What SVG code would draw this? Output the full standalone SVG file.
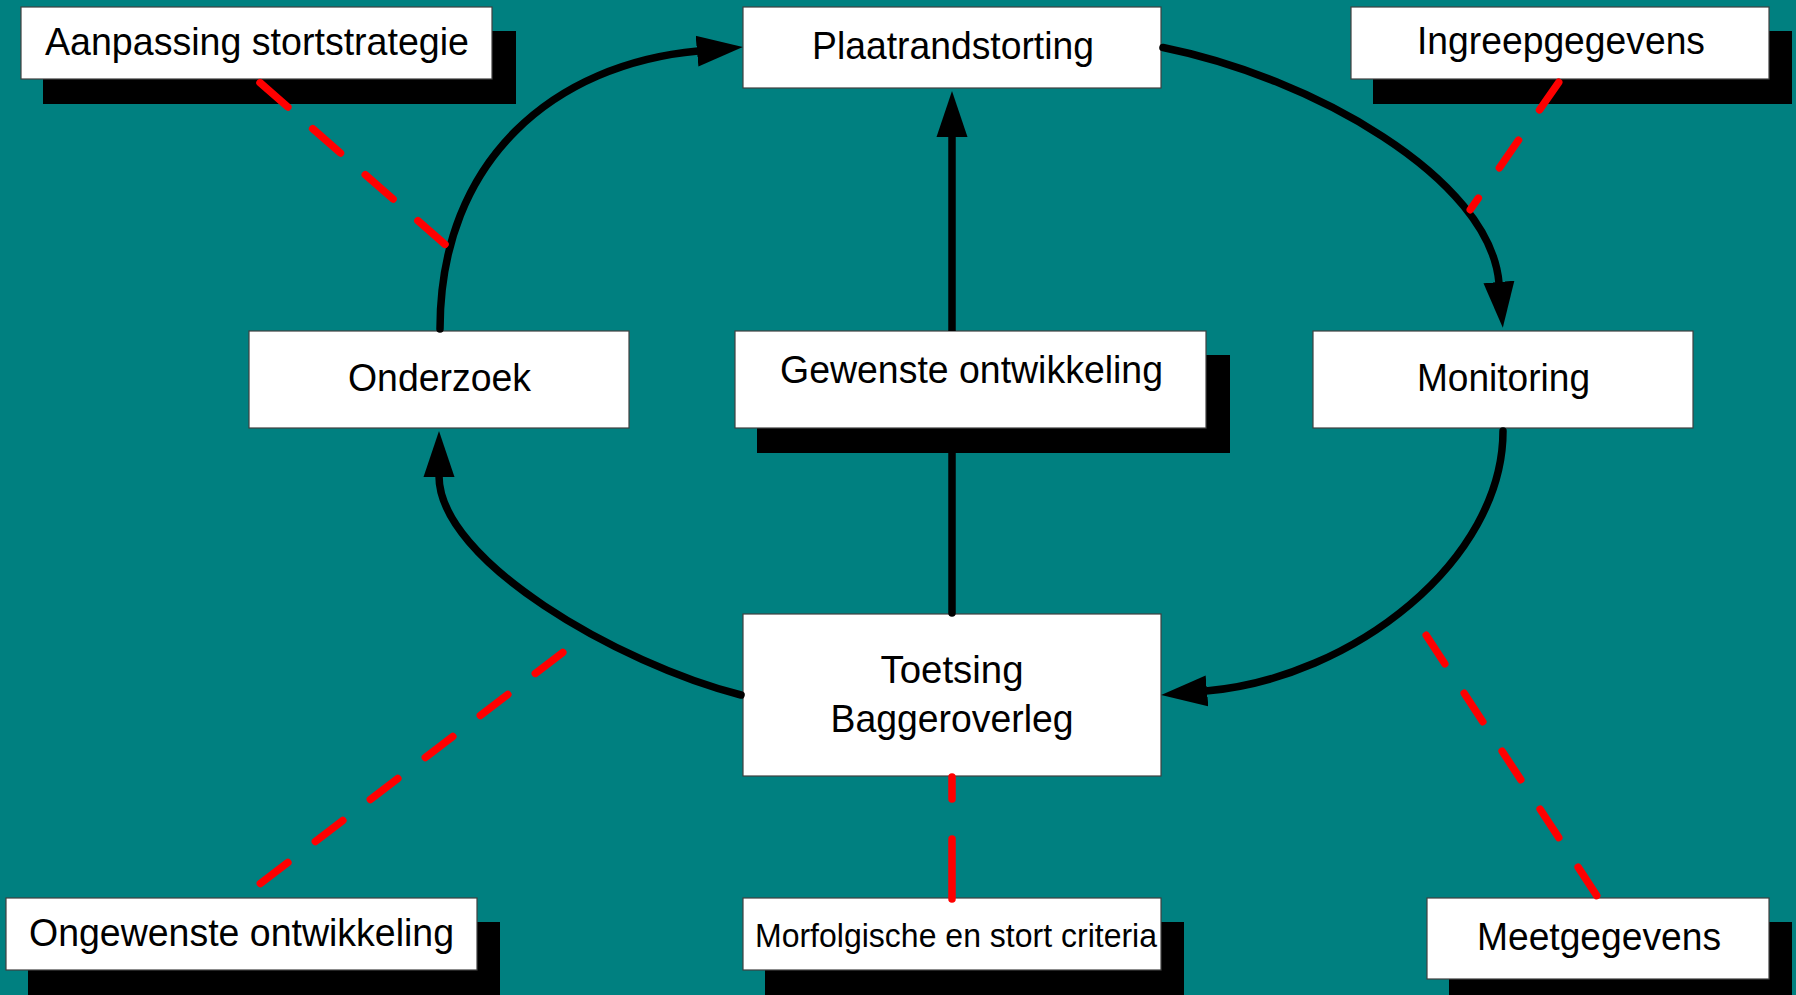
<svg xmlns="http://www.w3.org/2000/svg" width="1796" height="995" viewBox="0 0 1796 995">
<defs>
<style>
.box{fill:#ffffff;stroke:#404040;stroke-width:1.2}
.shadow{fill:#000000}
.lbl{font-family:"Liberation Sans",Arial,sans-serif;font-size:39px;fill:#000000;text-anchor:middle}
.small{font-size:32.5px}
.flow{fill:none;stroke:#000000;stroke-width:7.5;stroke-linecap:round}
.flat{stroke-linecap:butt}
.rel{fill:none;stroke:#ff0000;stroke-width:7.5;stroke-linecap:round}
</style>
<marker id="ah" markerUnits="userSpaceOnUse" markerWidth="48" markerHeight="34" viewBox="0 -17 48 34" refX="1" refY="0" orient="auto">
<path d="M0,-15.5 L46,0 L0,15.5 Z" fill="#000000"/>
</marker>
</defs>
<rect x="0" y="0" width="1796" height="995" fill="#008080"/>
<g id="nodes">
<g id="n-aanpassing">
<rect class="shadow" x="43" y="31" width="473" height="73"/>
<rect class="box" x="21" y="7" width="471" height="72"/>
<text class="lbl" x="257" y="55" textLength="424" lengthAdjust="spacingAndGlyphs">Aanpassing stortstrategie</text>
</g>
<g id="n-plaatrandstorting">
<rect class="box" x="743" y="7" width="418" height="81"/>
<text class="lbl" x="953" y="59" textLength="282" lengthAdjust="spacingAndGlyphs">Plaatrandstorting</text>
</g>
<g id="n-ingreepgegevens">
<rect class="shadow" x="1373" y="31" width="419" height="73"/>
<rect class="box" x="1351" y="7" width="418" height="72"/>
<text class="lbl" x="1561" y="54" textLength="288" lengthAdjust="spacingAndGlyphs">Ingreepgegevens</text>
</g>
<g id="n-onderzoek">
<rect class="box" x="249" y="331" width="380" height="97"/>
<text class="lbl" x="439.5" y="391" textLength="183" lengthAdjust="spacingAndGlyphs">Onderzoek</text>
</g>
<g id="n-gewenste">
<rect class="shadow" x="757" y="355" width="473" height="98"/>
<rect class="box" x="735" y="331" width="471" height="97"/>
<text class="lbl" x="971.5" y="383" textLength="383" lengthAdjust="spacingAndGlyphs">Gewenste ontwikkeling</text>
</g>
<g id="n-monitoring">
<rect class="box" x="1313" y="331" width="380" height="97"/>
<text class="lbl" x="1503.5" y="391" textLength="173" lengthAdjust="spacingAndGlyphs">Monitoring</text>
</g>
<g id="n-toetsing">
<rect class="box" x="743" y="614" width="418" height="162"/>
<text class="lbl" x="952" y="683" textLength="143" lengthAdjust="spacingAndGlyphs">Toetsing</text>
<text class="lbl" x="952" y="732" textLength="243" lengthAdjust="spacingAndGlyphs">Baggeroverleg</text>
</g>
<g id="n-ongewenste">
<rect class="shadow" x="28" y="922" width="472" height="73"/>
<rect class="box" x="6" y="898" width="471" height="72"/>
<text class="lbl" x="241.5" y="946" textLength="425" lengthAdjust="spacingAndGlyphs">Ongewenste ontwikkeling</text>
</g>
<g id="n-morfologische">
<rect class="shadow" x="765" y="922" width="419" height="73"/>
<rect class="box" x="743" y="898" width="418" height="72"/>
<text class="lbl small" x="956" y="947" textLength="402" lengthAdjust="spacingAndGlyphs">Morfolgische en stort criteria</text>
</g>
<g id="n-meetgegevens">
<rect class="shadow" x="1449" y="922" width="343" height="73"/>
<rect class="box" x="1427" y="898" width="342" height="81"/>
<text class="lbl" x="1599" y="950" textLength="244" lengthAdjust="spacingAndGlyphs">Meetgegevens</text>
</g>
</g>
<g id="connectors">
<path class="flow" d="M440,329 C440,158 556,64 698,51" marker-end="url(#ah)"/>
<path class="flow" d="M1163,47.5 C1310,77 1490,177 1499,283" marker-end="url(#ah)"/>
<path class="flow" d="M1503,431 C1503,560 1354,678 1206,691" marker-end="url(#ah)"/>
<path class="flow" d="M741,695 C619,664 439,561 439,476" marker-end="url(#ah)"/>
<path class="flow" d="M952,613 L952,450"/>
<path class="flow flat" d="M952,331 L952,136" marker-end="url(#ah)"/>
<path class="rel" d="M260,82.6 L445,244.4" stroke-dasharray="37 32.9"/>
<path class="rel" d="M1558.7,82.3 L1470.3,209.7" stroke-dasharray="33.6 36.9"/>
<path class="rel" d="M562.8,652.4 L260.2,883.6" stroke-dasharray="34.6 34.6"/>
<path class="rel" d="M1426.2,635.3 L1596.8,895.7" stroke-dasharray="34 35.3"/>
<path class="rel" d="M952,777 L952,899" stroke-dasharray="22 40 60 100"/>
</g>
</svg>
